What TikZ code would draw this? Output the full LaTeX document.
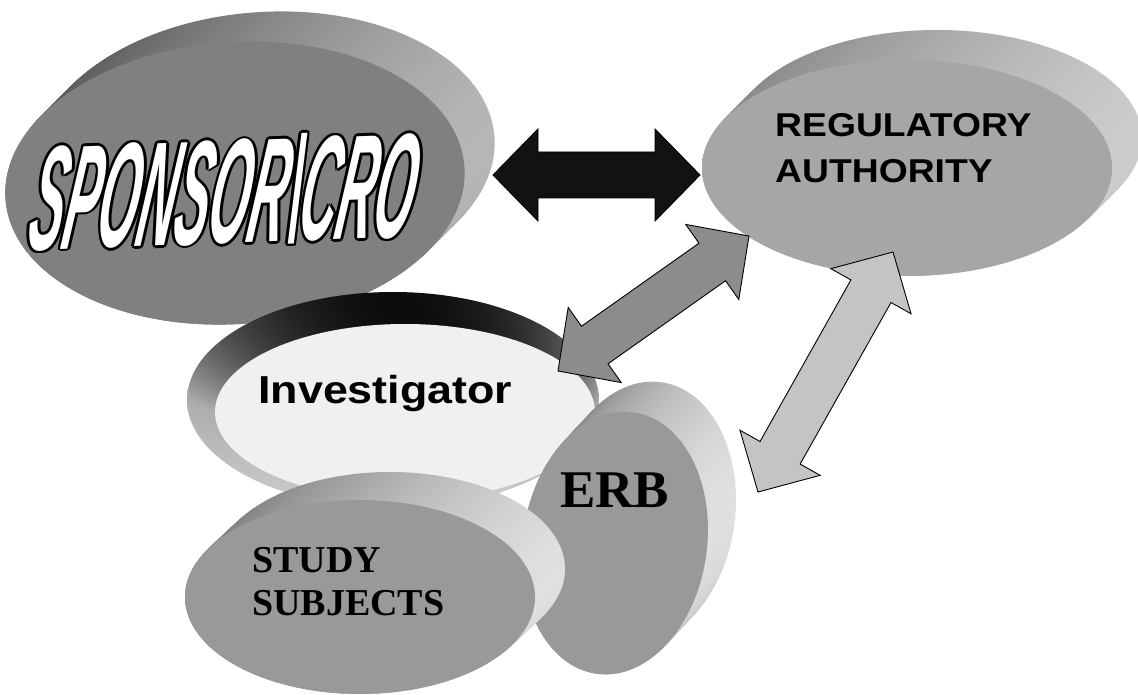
\documentclass[tikz,border=0pt]{standalone}
\usepackage{fontspec}
\setmainfont{Liberation Serif}
\setsansfont{Liberation Sans}
\usetikzlibrary{shapes.geometric,calc}
\tikzstyle{disc}=[ellipse,inner sep=0pt,draw=none]
\tikzstyle{fat arrow}=[draw=black,line width=0.9pt,line join=miter]
\tikzstyle{sanslabel}=[font=\sffamily\bfseries,anchor=base west,inner sep=0pt]
\tikzstyle{seriflabel}=[font=\rmfamily\bfseries,anchor=base west,inner sep=0pt]
\tikzstyle{sptext}=[font=\sffamily\bfseries\itshape\fontsize{80}{80}\selectfont,rotate=2,xslant=0.2,xscale=0.64,yscale=1.85,inner sep=0pt]

\begin{document}
\begin{tikzpicture}[x=1pt,y=-1pt]

   \fill[white] (0,0) rectangle (1138,695);
   \useasboundingbox (0,0) rectangle (1138,695);
   \clip (0,0) rectangle (1138,695);

    % discs: name / face x,y / radii / back x,y / back radii / rotation / face / band colours / shading angle
    \foreach \name/\fx/\fy/\rx/\ry/\bx/\by/\brx/\bry/\rot/\face/\bl/\md/\br/\ang in {
        sponsor/235/183/230/141/265/153/230/141/4/black!50/black!68/black!48/black!28/90,
        regulatory/907/168/205/108/937/138/205/108/0/black!35/black!48/black!34/black!20/90,
        investigator/405/412/190/88/393/400/206/108/0/black!6/black!95/black!32/black!20/0,
        erb/615/543/92/132/643/513/92/132/-8/black!40/black!58/black!34/black!10/90,
        subjects/360/597/175/97/390/569/175/97/0/black!40/black!52/black!32/black!12/90}
    {
        \foreach \k in {0,...,20}{
            \pgfmathsetmacro\lam{\k/20}
            \pgfmathsetmacro\cx{\bx+\lam*(\fx-\bx)}
            \pgfmathsetmacro\cy{\by+\lam*(\fy-\by)}
            \pgfmathsetmacro\ax{\brx+\lam*(\rx-\brx)}
            \pgfmathsetmacro\ay{\bry+\lam*(\ry-\bry)}
            \shade[left color=\bl,right color=\br,middle color=\md,shading angle=\ang,rotate around={\rot:(\cx,\cy)}]
                (\cx,\cy) ellipse [x radius=\ax pt,y radius=\ay pt];
        }
        \pgfmathsetmacro\w{2*\rx}
        \pgfmathsetmacro\h{2*\ry}
        \node[disc,fill=\face,minimum width=\w pt,minimum height=\h pt,rotate=\rot] (\name) at (\fx,\fy) {};
    }

    % arrow ends
    \coordinate (spTip) at (493,175);
    \coordinate (raTip) at (700,175);
    \coordinate (invTip) at (558,371);
    \coordinate (raTipA) at (749,236);
    \coordinate (erbTip) at (758,492);
    \coordinate (raTipB) at (893,252);

    \foreach \source/\dest/\tone in {spTip/raTip/black!93,invTip/raTipA/black!45,erbTip/raTipB/black!23}{
        \coordinate (hs) at ($(\source)!45pt!(\dest)$);
        \coordinate (hd) at ($(\dest)!45pt!(\source)$);
        \draw[fat arrow,fill=\tone] (\source) -- ($(hs)!46pt!90:(\dest)$) -- ($(hs)!23pt!90:(\dest)$)
            -- ($(hd)!23pt!-90:(\source)$) -- ($(hd)!46pt!-90:(\source)$) -- (\dest)
            -- ($(hd)!46pt!90:(\source)$) -- ($(hd)!23pt!90:(\source)$)
            -- ($(hs)!23pt!-90:(\dest)$) -- ($(hs)!46pt!-90:(\dest)$) -- cycle;
    }

    % texts
    \coordinate (spCenter) at (226,191);
    \foreach \a in {0,45,...,315}
        \node[sptext,text=black] (spOutline\a) at ($(spCenter)+(\a:2.6)$) {SPONSOR\textbackslash CRO};
    \node[sptext,text=white] (spText) at (spCenter) {SPONSOR\textbackslash CRO};

    \node[sanslabel,font=\sffamily\bfseries\fontsize{33}{33}\selectfont,xscale=1.13] (raLine1) at (775,137) {REGULATORY};
    \node[sanslabel,font=\sffamily\bfseries\fontsize{33}{33}\selectfont,xscale=1.13] (raLine2) at (775,183) {AUTHORITY};
    \node[sanslabel,font=\sffamily\bfseries\fontsize{39}{39}\selectfont,xscale=1.15] (invText) at (258,403) {Investigator};
    \node[seriflabel,font=\rmfamily\bfseries\fontsize{53}{53}\selectfont] (erbText) at (560,507) {ERB};
    \node[seriflabel,font=\rmfamily\bfseries\fontsize{38}{38}\selectfont] (subLine1) at (252,572) {STUDY};
    \node[seriflabel,font=\rmfamily\bfseries\fontsize{38}{38}\selectfont] (subLine2) at (252,615) {SUBJECTS};

\end{tikzpicture}
\end{document}
